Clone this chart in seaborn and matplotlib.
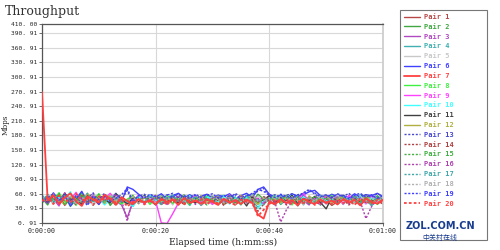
import numpy as np
import pandas as pd
import seaborn as sns
import matplotlib
matplotlib.use("Agg")
import matplotlib.pyplot as plt
from matplotlib.patches import Rectangle

seconds = list(range(61))

pair_1 = [48,55,41,60,37,52,45,58,43,50,
          39,56,47,53,44,49,38,51,42,48,
          50,39,47,52,40,49,44,51,37,48,
          50,41,45,52,38,49,44,50,40,53,
          45,38,51,44,49,36,52,41,50,43,
          48,37,45,49,41,52,39,48,44,46,
          40]
pair_2 = [52,38,61,44,57,35,49,63,40,54,
          46,59,37,51,43,45,56,41,58,44,
          48,57,40,53,45,59,42,54,38,56,
          46,55,43,58,51,40,57,45,60,50,
          44,56,39,53,45,58,41,55,50,38,
          57,47,55,40,56,43,59,50,42,57,
          48]
pair_3 = [44,58,50,36,62,47,55,39,53,61,
          42,48,57,46,38,12,44,56,40,58,
          45,54,39,57,48,41,56,53,38,55,
          49,58,42,54,50,39,57,46,52,40,
          56,44,58,50,41,55,47,38,56,51,
          40,57,53,39,56,46,54,42,58,48,
          46]
pair_4 = [50,43,56,48,61,40,52,46,59,37,
          55,44,50,58,41,47,35,55,42,57,
          46,39,52,58,43,50,37,55,49,53,
          40,56,44,58,52,38,55,47,33,46,
          50,57,40,48,55,42,58,47,52,38,
          56,48,40,55,47,57,42,50,36,54,
          47]
pair_5 = [46,53,39,57,49,42,60,45,51,38,
          54,47,43,56,50,48,57,40,55,46,
          59,43,52,38,56,46,58,41,53,49,
          39,57,46,54,40,58,51,43,56,47,
          55,40,58,44,53,48,39,57,46,52,
          42,58,48,40,55,51,43,57,45,52,
          48]
pair_6 = [55,42,63,47,58,36,51,66,44,60,
          39,57,49,62,45,75,70,60,52,58,
          54,61,50,57,62,53,59,51,56,60,
          52,58,55,61,50,57,62,53,70,75,
          60,54,58,52,61,56,59,65,68,57,
          53,60,55,58,52,61,54,59,57,62,
          55]
pair_7 = [270,47,58,40,53,62,45,36,56,49,
          43,59,51,38,54,46,40,50,43,48,
          39,51,44,49,38,52,42,47,40,50,
          44,38,51,42,48,40,49,43,18,10,
          45,40,50,42,48,38,51,44,40,49,
          42,47,39,50,43,48,37,51,44,41,
          49]
pair_8 = [41,56,48,63,44,52,37,59,50,46,
          61,43,55,48,40,50,57,42,55,39,
          53,46,58,41,54,49,38,56,44,57,
          47,40,58,45,52,39,56,48,42,55,
          49,58,43,51,38,57,46,53,41,56,
          45,58,40,52,47,55,42,57,49,39,
          54]
pair_9 = [53,45,60,38,55,49,64,42,51,57,
          44,50,62,46,53,42,47,58,40,55,
          46,1,0,20,42,55,48,58,43,51,
          39,56,46,59,44,53,40,57,49,42,
          58,45,51,40,56,48,62,44,53,39,
          57,46,55,41,58,47,52,40,56,45,
          53]
pair_10 = [47,59,43,54,50,65,40,48,57,45,
           52,38,49,60,47,44,35,55,43,58,
           48,40,53,49,56,42,57,46,38,54,
           51,44,58,40,53,47,55,41,30,50,
           45,56,42,51,58,39,54,47,43,57,
           46,52,40,56,49,44,58,42,53,47,
           50]
pair_11 = [50,44,57,41,62,48,53,39,58,46,
           55,49,42,61,50,40,52,44,57,48,
           38,55,45,53,41,57,48,42,56,49,
           44,54,39,57,47,52,36,55,44,49,
           57,42,53,46,58,40,51,47,55,43,
           30,54,46,57,41,52,45,56,43,51,
           47]
pair_12 = [45,52,60,47,39,56,50,43,62,48,
           53,41,58,45,51,47,56,41,53,45,
           58,42,51,48,55,39,54,46,57,43,
           50,56,40,53,47,58,44,51,39,55,
           48,53,42,57,46,50,40,56,45,52,
           58,43,49,55,41,53,47,57,42,50,
           46]
pair_13 = [58,46,52,40,61,49,55,44,50,63,
           41,54,47,59,49,68,42,56,60,52,
           57,50,59,53,61,49,56,58,51,60,
           55,52,58,50,62,54,57,60,66,72,
           56,59,52,58,61,55,63,70,60,54,
           58,52,60,55,62,51,57,59,54,61,
           56]
pair_14 = [49,56,43,58,46,51,38,60,47,53,
           45,57,50,42,55,44,39,50,45,48,
           52,40,47,43,51,38,49,45,41,50,
           44,48,37,49,43,51,40,47,25,40,
           49,43,50,38,46,52,41,48,44,39,
           50,45,42,49,38,47,51,43,48,40,
           46]
pair_15 = [43,55,49,62,38,53,47,58,42,50,
           60,46,52,37,54,46,58,41,55,47,
           39,57,44,52,48,59,42,55,46,38,
           56,49,43,57,40,54,47,59,44,51,
           38,55,46,58,42,52,49,41,57,45,
           53,39,56,48,43,58,46,51,40,55,
           48]
pair_16 = [51,41,57,46,63,49,44,54,39,58,
           47,52,45,60,48,5,50,42,56,44,
           57,40,53,48,58,43,51,39,55,47,
           52,57,41,54,46,58,42,50,44,55,
           48,43,3,28,45,56,41,53,47,58,
           42,55,46,51,40,57,45,10,35,49,
           54]
pair_17 = [47,60,44,52,57,41,55,48,62,45,
           51,43,56,49,46,48,38,55,44,57,
           49,41,53,58,45,50,39,56,47,54,
           42,57,48,40,55,46,58,43,51,38,
           54,47,57,42,50,56,39,53,46,58,
           44,51,40,55,48,57,43,52,38,55,
           47]
pair_18 = [54,47,59,43,51,56,40,53,48,61,
           44,50,58,47,52,45,55,40,57,49,
           43,56,46,52,39,58,48,44,55,41,
           57,50,43,56,47,53,40,58,46,52,
           41,57,49,44,55,48,38,54,46,57,
           43,51,58,45,50,39,56,47,53,42,
           55]
pair_19 = [44,53,61,48,55,42,58,50,37,56,
           49,62,45,52,59,72,45,58,52,60,
           55,50,58,62,53,57,51,60,54,58,
           61,52,57,55,59,50,56,62,70,66,
           58,53,60,56,52,59,62,68,63,55,
           59,53,61,56,50,58,62,54,59,52,
           57]
pair_20 = [46,54,40,57,49,43,61,47,52,38,
           56,48,53,42,50,35,44,50,39,47,
           42,49,38,51,45,40,48,43,50,39,
           47,41,50,44,38,49,45,42,15,28,
           40,48,43,50,39,46,42,51,38,47,
           44,40,49,42,47,38,50,44,41,48,
           43]

pair_names = [f"Pair {i}" for i in range(1, 21)]
pair_values = [pair_1, pair_2, pair_3, pair_4, pair_5, pair_6, pair_7, pair_8,
               pair_9, pair_10, pair_11, pair_12, pair_13, pair_14, pair_15,
               pair_16, pair_17, pair_18, pair_19, pair_20]
pair_colors = ["#b84848", "#40a840", "#b048c0", "#40b0b0", "#c8c8c8",
               "#4040ff", "#ff4040", "#40f040", "#ff40ff", "#40ffff",
               "#404040", "#b0b040", "#4848d0", "#b04040", "#40b040",
               "#b040b0", "#40a8a8", "#b0b0b0", "#4040ff", "#ff4040"]

y_ticks = [0.91, 30.91, 60.91, 90.91, 120.91, 150.91, 180.91, 210.91, 240.91,
           270.91, 300.91, 330.91, 360.91, 390.91, 410.00]
x_ticks = [0, 20, 40, 60]
x_tick_labels = ["0:00:00", "0:00:20", "0:00:40", "0:01:00"]

sns.set_theme(style="white")
plt.rcParams['font.family'] = ['DejaVu Sans', 'Noto Sans CJK SC']

fig = plt.figure(figsize=(5, 2.5), dpi=100)
ax = fig.add_axes([0.084, 0.108, 0.682, 0.796])

frames = []
for name, vals in zip(pair_names, pair_values):
    frames.append(pd.DataFrame({"t": seconds, "v": vals, "pair": name}))
df = pd.concat(frames, ignore_index=True)

for i, name in enumerate(pair_names):
    sub = df[df["pair"] == name]
    ls = "-" if i < 12 else (0, (1.5, 1.2))
    is_red = pair_colors[i] == "#ff4040"
    lw = 1.3 if is_red else 1.0
    sns.lineplot(data=sub, x="t", y="v", ax=ax, color=pair_colors[i],
                 linestyle=ls, linewidth=lw, label=name, legend=False,
                 estimator=None, sort=False, zorder=3 if is_red else 2)

ax.set_xlim(0, 60)
ax.set_ylim(0.91, 410.0)
ax.set_yticks(y_ticks)
ax.set_yticklabels([f"{v:.2f}".replace(".", ". ") for v in y_ticks],
                   fontsize=4.5, family="DejaVu Sans Mono")
ax.set_xticks(x_ticks)
ax.set_xticklabels(x_tick_labels, fontsize=4.8, family="DejaVu Sans Mono")
ax.grid(True, color="#d8d8d8", linewidth=0.8)
for s in ("left", "bottom", "top"):
    ax.spines[s].set_color("#555555")
    ax.spines[s].set_linewidth(0.9)
ax.spines["right"].set_color("#cccccc")
ax.tick_params(axis="both", length=2, width=0.6, color="#555555", pad=1.5)
ax.tick_params(axis="y", left=True)
ax.tick_params(axis="x", bottom=True)
ax.set_xlabel("")
ax.set_ylabel("")
fig.text(0.447, 0.03, "Elapsed time (h:mm:ss)", fontsize=6.5, family="DejaVu Serif",
         ha="center", va="center", color="#222222")
fig.text(0.011, 0.5, "Mbps", fontsize=5.2, family="DejaVu Serif", rotation=90,
         ha="center", va="center", color="#222222")

fig.text(0.01, 0.955, "Throughput", fontsize=9, family="DejaVu Serif",
         color="#333333", va="center", ha="left")

handles, labels = ax.get_legend_handles_labels()
leg = fig.legend(handles, labels, loc="upper left", bbox_to_anchor=(0.803, 0.955),
                 frameon=False, prop={"family": "DejaVu Sans Mono", "size": 5, "weight": "bold"},
                 handlelength=2.2, handletextpad=0.6, labelspacing=0.55, borderaxespad=0)
for txt, c in zip(leg.get_texts(), pair_colors):
    txt.set_color(c)

fig.patches.append(Rectangle((0.80, 0.04), 0.174, 0.92, transform=fig.transFigure,
                             fill=False, edgecolor="#777777", linewidth=0.8))

fig.text(0.88, 0.095, "ZOL.COM.CN", fontsize=7, weight="bold", color="#1a3d8f",
         ha="center", va="center")
fig.text(0.88, 0.05, "中关村在线", fontsize=5, color="#1a3d8f", ha="center", va="center",
         family=["Noto Sans CJK SC", "DejaVu Sans"])

fig.savefig("out.png", dpi=100)
